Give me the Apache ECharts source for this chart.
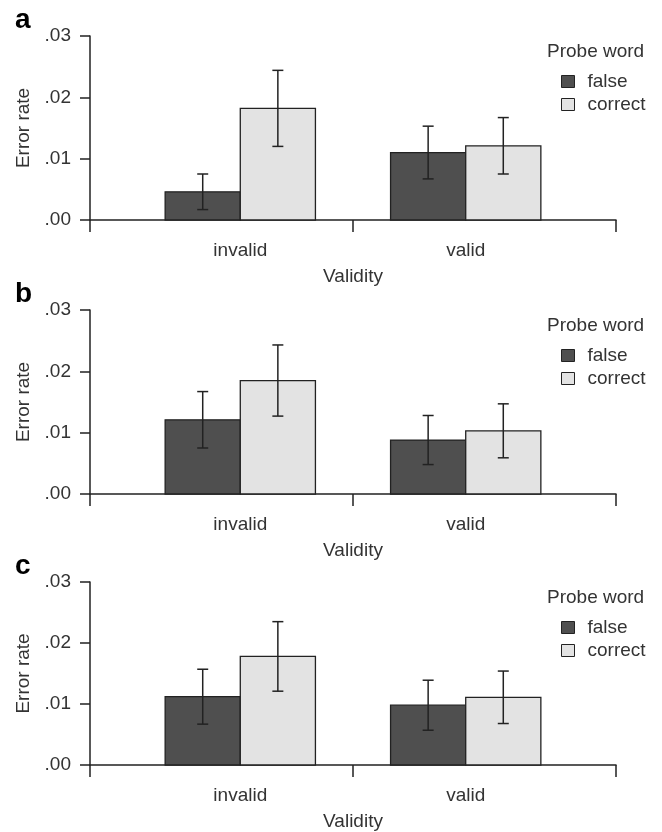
<!DOCTYPE html>
<html lang="en">
<head>
<meta charset="UTF-8" />
<title>Error rate by validity</title>
<script src="https://cdn.jsdelivr.net/npm/echarts@6/dist/echarts.min.js"></script>
<style>
  html, body { margin: 0; padding: 0; background: #fff; }
  #chart { width: 662px; height: 832px; }
</style>
</head>
<body>
<div id="chart"></div>
<script>
// data
const panels = ["a", "b", "c"];
const validity = ["invalid", "valid"];
const probeWords = ["false", "correct"];
const yTicks = [0, 0.01, 0.02, 0.03];

// panel a
const aFalse = [0.0046, 0.0110];
const aFalseSe = [0.0029, 0.0043];
const aCorrect = [0.0182, 0.0121];
const aCorrectSe = [0.0062, 0.0046];
// panel b
const bFalse = [0.0121, 0.0088];
const bFalseSe = [0.0046, 0.0040];
const bCorrect = [0.0185, 0.0103];
const bCorrectSe = [0.0058, 0.0044];
// panel c
const cFalse = [0.0112, 0.0098];
const cFalseSe = [0.0045, 0.0041];
const cCorrect = [0.0178, 0.0111];
const cCorrectSe = [0.0057, 0.0043];

const means = [[aFalse, aCorrect], [bFalse, bCorrect], [cFalse, cCorrect]];
const ses = [[aFalseSe, aCorrectSe], [bFalseSe, bCorrectSe], [cFalseSe, cCorrectSe]];

const font = "'Liberation Sans', Arial, sans-serif";
const fs = 19;
const textColor = "#333";
const lineColor = "#222";
const fills = ["#4f4f4f", "#e3e3e3"];
const gridTops = [36, 310, 582];

const chart = echarts.init(document.getElementById("chart"));

// R-style barplot: bars are 1 unit wide, groups separated by 1 unit, x from 0 to 7
function groupCenter(i) { return 2 + 3 * i; }

function renderBar(params, api) {
  const x = api.value(0), y = api.value(1), se = api.value(2);
  const tl = api.coord([x - 0.5, y]);
  const br = api.coord([x + 0.5, 0]);
  const top = api.coord([x, y + se]);
  const bot = api.coord([x, y - se]);
  const cap = 5.5;
  const ls = { stroke: lineColor, lineWidth: 1.5 };
  return {
    type: "group",
    children: [
      { type: "rect", shape: { x: tl[0], y: tl[1], width: br[0] - tl[0], height: br[1] - tl[1] },
        style: { fill: api.visual("color"), stroke: lineColor, lineWidth: 1.3 } },
      { type: "line", shape: { x1: top[0], y1: top[1], x2: bot[0], y2: bot[1] }, style: ls },
      { type: "line", shape: { x1: top[0] - cap, y1: top[1], x2: top[0] + cap, y2: top[1] }, style: ls },
      { type: "line", shape: { x1: bot[0] - cap, y1: bot[1], x2: bot[0] + cap, y2: bot[1] }, style: ls }
    ]
  };
}

const grid = [], xAxis = [], yAxis = [], series = [], legend = [], title = [];

panels.forEach((p, k) => {
  const top = gridTops[k];
  grid.push({ left: 90, top: top, width: 526, height: 184 });
  title.push({ text: p, left: 10, top: top - 35,
    textStyle: { fontFamily: font, fontSize: 28, fontWeight: "bold", color: "#000" } });
  title.push({ text: "Probe word", left: 542, top: top + 1,
    textStyle: { fontFamily: font, fontSize: fs, fontWeight: "normal", color: textColor } });
  xAxis.push({
    type: "value", gridIndex: k, min: 0, max: 7,
    name: "Validity", nameLocation: "middle", nameGap: 47,
    nameTextStyle: { fontFamily: font, fontSize: fs, color: textColor },
    axisLine: { show: true, onZero: false, lineStyle: { color: lineColor, width: 1.5 } },
    axisTick: { show: true, customValues: [0, 3.5, 7], length: 12, lineStyle: { color: lineColor, width: 1.5 } },
    axisLabel: {
      customValues: validity.map((v, i) => groupCenter(i)),
      formatter: (v) => validity[(v - 2) / 3] || "",
      margin: 21, fontFamily: font, fontSize: fs, color: textColor
    },
    splitLine: { show: false }
  });
  yAxis.push({
    type: "value", gridIndex: k, min: yTicks[0], max: yTicks[yTicks.length - 1], interval: 0.01,
    name: "Error rate", nameLocation: "middle", nameGap: 52, nameRotate: 90,
    nameTextStyle: { fontFamily: font, fontSize: fs, color: textColor },
    axisLine: { show: true, lineStyle: { color: lineColor, width: 1.5 } },
    axisTick: { show: true, length: 10, lineStyle: { color: lineColor, width: 1.5 } },
    axisLabel: { formatter: (v) => v.toFixed(2).replace(/^0/, ""), margin: 19,
      fontFamily: font, fontSize: fs, color: textColor },
    splitLine: { show: false }
  });
  probeWords.forEach((w, s) => {
    series.push({
      type: "custom", name: w, xAxisIndex: k, yAxisIndex: k,
      itemStyle: { color: fills[s] },
      encode: { x: 0, y: 1 },
      renderItem: renderBar,
      data: means[k][s].map((m, i) => [groupCenter(i) - 0.5 + s, m, ses[k][s][i]])
    });
  });
  legend.push({
    data: probeWords, orient: "vertical", left: 556, top: top + 31,
    itemWidth: 13, itemHeight: 12, itemGap: 4, selectedMode: false,
    icon: "rect",
    itemStyle: { borderColor: lineColor, borderWidth: 1 },
    textStyle: { fontFamily: font, fontSize: fs, color: textColor, padding: [0, 0, 0, 8] }
  });
});

chart.setOption({
  animation: false,
  backgroundColor: "#fff",
  title: title,
  legend: legend,
  grid: grid,
  xAxis: xAxis,
  yAxis: yAxis,
  series: series
});
</script>
</body>
</html>
